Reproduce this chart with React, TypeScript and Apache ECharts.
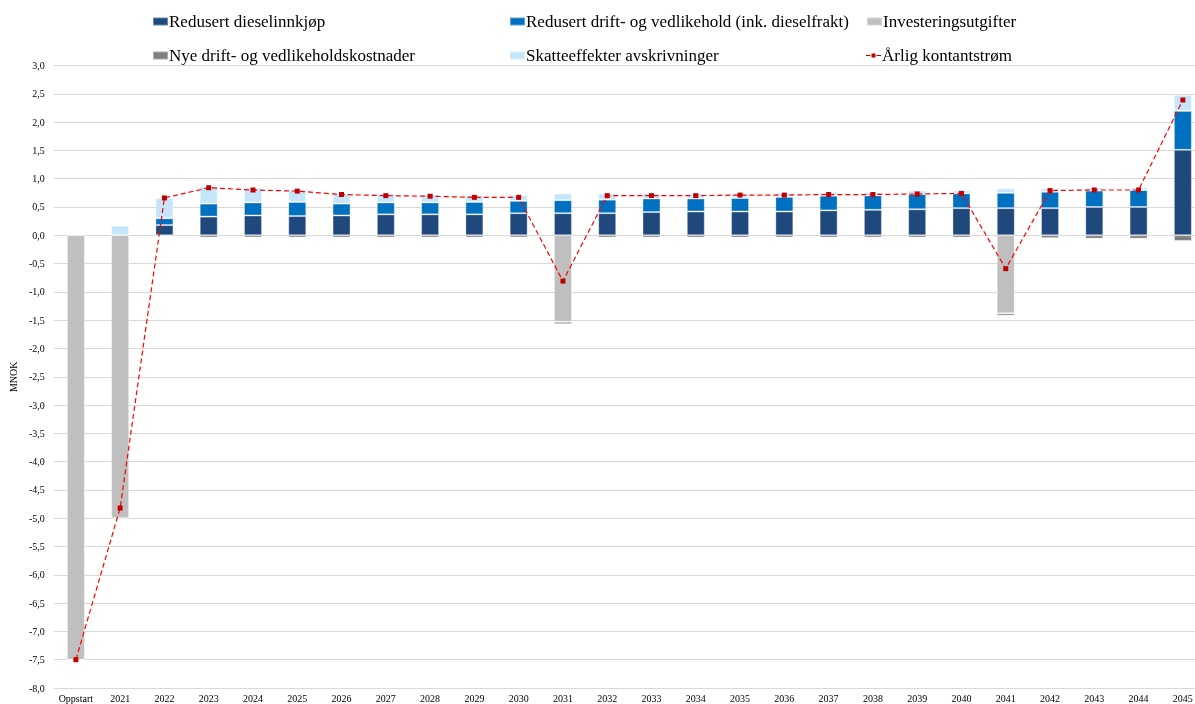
import React, { useEffect, useRef } from "react";
import * as echarts from "echarts";

const categories = [
  "Oppstart", "2021", "2022", "2023", "2024", "2025", "2026", "2027", "2028", "2029",
  "2030", "2031", "2032", "2033", "2034", "2035", "2036", "2037", "2038", "2039",
  "2040", "2041", "2042", "2043", "2044", "2045",
];

// MNOK per year
const redusertDiesel = [
  0, 0, 0.18, 0.33, 0.35, 0.34, 0.35, 0.37, 0.37, 0.37,
  0.39, 0.39, 0.39, 0.41, 0.42, 0.42, 0.42, 0.44, 0.45, 0.46,
  0.48, 0.48, 0.48, 0.50, 0.50, 1.51,
];
const redusertDrift = [
  0, 0, 0.12, 0.23, 0.23, 0.25, 0.21, 0.21, 0.21, 0.22,
  0.22, 0.23, 0.24, 0.24, 0.23, 0.24, 0.26, 0.26, 0.255, 0.27,
  0.26, 0.27, 0.29, 0.29, 0.30, 0.69,
];
const investering = [
  -7.5, -5.0, -0.02, 0, 0, 0, 0, 0, 0, 0,
  0, -1.53, 0, 0, 0, 0, 0, 0, 0, 0,
  0, -1.38, 0, 0, 0, 0,
];
const nyeDrift = [
  0, 0, 0, -0.04, -0.04, -0.04, -0.04, -0.04, -0.04, -0.04,
  -0.04, -0.04, -0.04, -0.04, -0.04, -0.04, -0.04, -0.04, -0.04, -0.04,
  -0.04, -0.04, -0.05, -0.06, -0.06, -0.10,
];
const skatteeffekter = [
  0, 0.17, 0.36, 0.31, 0.255, 0.215, 0.18, 0.16, 0.14, 0.12,
  0.10, 0.12, 0.11, 0.09, 0.09, 0.075, 0.07, 0.055, 0.06, 0.06,
  0.05, 0.08, 0.06, 0.055, 0.045, 0.28,
];
const kontantstrom = [
  -7.5, -4.82, 0.66, 0.84, 0.80, 0.78, 0.72, 0.70, 0.69, 0.67,
  0.67, -0.81, 0.70, 0.70, 0.70, 0.71, 0.71, 0.72, 0.72, 0.73,
  0.74, -0.59, 0.79, 0.80, 0.80, 2.39,
];

const seriesNames = [
  "Redusert dieselinnkjøp",
  "Redusert drift- og vedlikehold (ink. dieselfrakt)",
  "Investeringsutgifter",
  "Nye drift- og vedlikeholdskostnader",
  "Skatteeffekter avskrivninger",
  "Årlig kontantstrøm",
];

const FONT = '"Liberation Serif", "Times New Roman", serif';

// legend key for the cash-flow line: dash, square marker, dash
const LINE_ICON = "path://M0,1.5h4.5v1h-4.5z M5.5,0h4v4h-4z M10.5,1.5h4.5v1h-4.5z";

export default function App() {
  const ref = useRef<HTMLDivElement>(null);

  useEffect(() => {
    document.body.style.margin = "0";
    const chart = echarts.init(ref.current!, null, { renderer: "svg" });

    const legendPos = [
      [152, 13], [509, 13], [866, 13],
      [152, 47], [509, 47], [866, 47],
    ];

    const barBase = {
      type: "bar" as const,
      stack: "total",
      barWidth: 18,
      itemStyle: { borderColor: "rgba(255,255,255,0.35)", borderWidth: 1 },
    };

    chart.setOption({
      animation: false,
      textStyle: { fontFamily: FONT },
      legend: seriesNames.map((n, i) => {
        const isLine = i === 5;
        return {
          data: [isLine ? { name: n, icon: LINE_ICON } : { name: n, icon: "rect" }],
          left: legendPos[i][0],
          top: legendPos[i][1],
          itemWidth: 15,
          itemHeight: isLine ? 4 : 8,
          padding: 0,
          textStyle: { fontFamily: FONT, fontSize: 17, color: "#000", padding: [0, 0, 0, -4] },
        };
      }),
      grid: { left: 51, right: 0, top: 65.5, bottom: 16, containLabel: false },
      xAxis: {
        type: "category",
        data: categories,
        axisLine: { show: false, onZero: false },
        axisTick: { show: false },
        axisLabel: { interval: 0, fontFamily: FONT, fontSize: 10, color: "#000", margin: 5 },
      },
      yAxis: {
        type: "value",
        min: -8,
        max: 3,
        interval: 0.5,
        name: "MNOK",
        nameLocation: "middle",
        nameGap: 27,
        nameTextStyle: { fontFamily: FONT, fontSize: 10, color: "#000" },
        axisLine: { show: false },
        axisTick: { show: false },
        axisLabel: {
          fontFamily: FONT,
          fontSize: 10,
          color: "#000",
          margin: 9,
          formatter: (v: number) => v.toFixed(1).replace(".", ","),
        },
        splitLine: { lineStyle: { color: "#d9d9d9", width: 1 } },
      },
      series: [
        { ...barBase, name: seriesNames[0], data: redusertDiesel, itemStyle: { ...barBase.itemStyle, color: "#1f497d" } },
        { ...barBase, name: seriesNames[1], data: redusertDrift, itemStyle: { ...barBase.itemStyle, color: "#0070c0" } },
        { ...barBase, name: seriesNames[2], data: investering, itemStyle: { ...barBase.itemStyle, color: "#bfbfbf" } },
        { ...barBase, name: seriesNames[3], data: nyeDrift, itemStyle: { ...barBase.itemStyle, color: "#7f7f7f" } },
        { ...barBase, name: seriesNames[4], data: skatteeffekter, itemStyle: { ...barBase.itemStyle, color: "#c5e6fa" } },
        {
          type: "line",
          name: seriesNames[5],
          data: kontantstrom,
          symbol: "rect",
          symbolSize: 5,
          z: 10,
          lineStyle: { color: "#ff0000", width: 1.2, type: [5, 3] },
          itemStyle: { color: "#c00000" },
        },
      ],
    });

    return () => chart.dispose();
  }, []);

  return (
    <div style={{ position: "fixed", left: 0, top: 0, width: 1195, height: 704, overflow: "hidden" }}>
      <div ref={ref} style={{ width: 1205, height: 704 }} />
    </div>
  );
}
